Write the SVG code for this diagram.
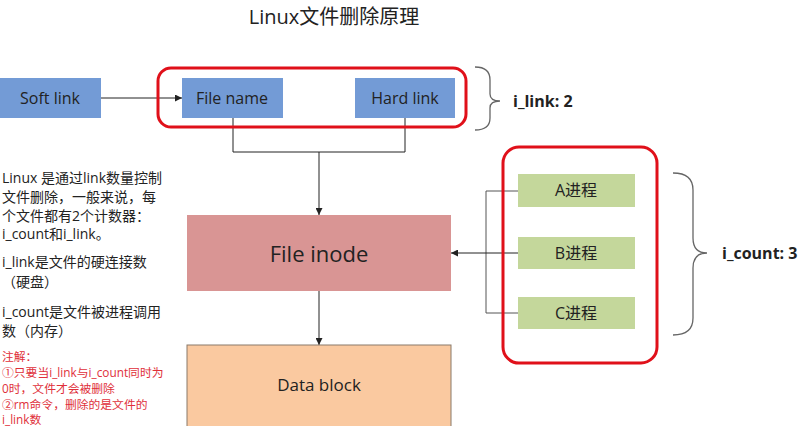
<svg xmlns="http://www.w3.org/2000/svg" width="800" height="426" viewBox="0 0 800 426">
<defs>
<marker id="arr" viewBox="0 0 10 10" refX="10" refY="5" markerWidth="7" markerHeight="7" orient="auto" markerUnits="userSpaceOnUse"><path d="M0,0 L10,5 L0,10 z" fill="#222"/></marker>
</defs>
<style>
text{font-family:"Open Sans","Noto Sans CJK SC",sans-serif;fill:#222}
.lbl{font-size:16px;text-anchor:middle;dominant-baseline:central}
.blue{fill:#739bd6}
.green{fill:#c4d79b}
.red{fill:none;stroke:#e0101a;stroke-width:3}
.line{fill:none;stroke:#222;stroke-width:1}
.gline{fill:none;stroke:#555;stroke-width:1}
.brace{fill:none;stroke:#666;stroke-width:1.3}
.note{font-size:14px}
.rnote{font-size:11.8px;fill:#e0303a}
.bold{font-size:16px;font-weight:bold;dominant-baseline:central}
</style>
<rect width="800" height="426" fill="#fff"/>
<text x="334" y="24" font-size="20" text-anchor="middle">Linux文件删除原理</text>

<g id="connectors">
<line class="line" x1="101" y1="98" x2="182" y2="98" marker-end="url(#arr)"/>
<polyline class="line" points="233,118 233,152 405,152 405,118"/>
<line class="line" x1="319" y1="152" x2="319" y2="215" marker-end="url(#arr)"/>
<line class="line" x1="319" y1="291" x2="319" y2="345" marker-end="url(#arr)"/>
<polyline class="gline" points="518,191 486,191 486,313 518,313"/>
<line class="line" x1="518" y1="253" x2="451" y2="253" marker-end="url(#arr)"/>
</g>

<g id="softlink"><rect class="blue" x="0" y="78" width="101" height="40"/><text class="lbl" x="50" y="98">Soft link</text></g>
<g id="ilink-group"><rect class="red" x="158" y="68" width="308" height="59" rx="13"/></g>
<g id="filename"><rect class="blue" x="182" y="78" width="101" height="40"/><text class="lbl" x="232" y="98">File name</text></g>
<g id="hardlink"><rect class="blue" x="355" y="78" width="100" height="40"/><text class="lbl" x="405" y="98">Hard link</text></g>
<g id="ilink-brace"><path class="brace" d="M475,67 Q490,67 490,80 L490,94 Q490,101 500,101 Q490,101 490,108 L490,118 Q490,130 475,130"/><text class="bold" x="513" y="101">i_link: 2</text></g>

<g id="inode"><rect x="187" y="215" width="264" height="76" fill="#d99594"/><text class="lbl" x="319" y="253" style="font-size:22px">File inode</text></g>
<g id="datablock"><rect x="187" y="345" width="264" height="90" fill="#fac9a0" stroke="#8a7a6a" stroke-width="1"/><text class="lbl" x="319" y="384" style="font-size:17px">Data block</text></g>

<g id="icount-group"><rect class="red" x="503" y="147" width="154" height="216" rx="16"/></g>
<g id="procA"><rect class="green" x="518" y="174" width="117" height="33"/><text class="lbl" x="576" y="190">A进程</text></g>
<g id="procB"><rect class="green" x="518" y="237" width="117" height="32"/><text class="lbl" x="576" y="253">B进程</text></g>
<g id="procC"><rect class="green" x="518" y="297" width="117" height="32"/><text class="lbl" x="576" y="313">C进程</text></g>
<g id="icount-brace"><path class="brace" d="M673,173 Q693,173 693,190 L693,238 Q693,253 707,253 Q693,253 693,268 L693,318 Q693,335 673,335"/><text class="bold" x="722" y="253">i_count: 3</text></g>

<g id="notes">
<text class="note" x="2" y="183">Linux 是通过link数量控制</text>
<text class="note" x="2" y="202">文件删除，一般来说，每</text>
<text class="note" x="2" y="221">个文件都有2个计数器：</text>
<text class="note" x="2" y="239">i_count和i_link。</text>
<text class="note" x="2" y="267">i_link是文件的硬连接数</text>
<text class="note" x="2" y="287">（硬盘）</text>
<text class="note" x="2" y="317">i_count是文件被进程调用</text>
<text class="note" x="2" y="336">数（内存）</text>
<text class="rnote" x="2" y="361">注解：</text>
<text class="rnote" x="2" y="377">①只要当i_link与i_count同时为</text>
<text class="rnote" x="2" y="393">0时，文件才会被删除</text>
<text class="rnote" x="2" y="409">②rm命令，删除的是文件的</text>
<text class="rnote" x="2" y="424">i_link数</text>
</g>
</svg>
